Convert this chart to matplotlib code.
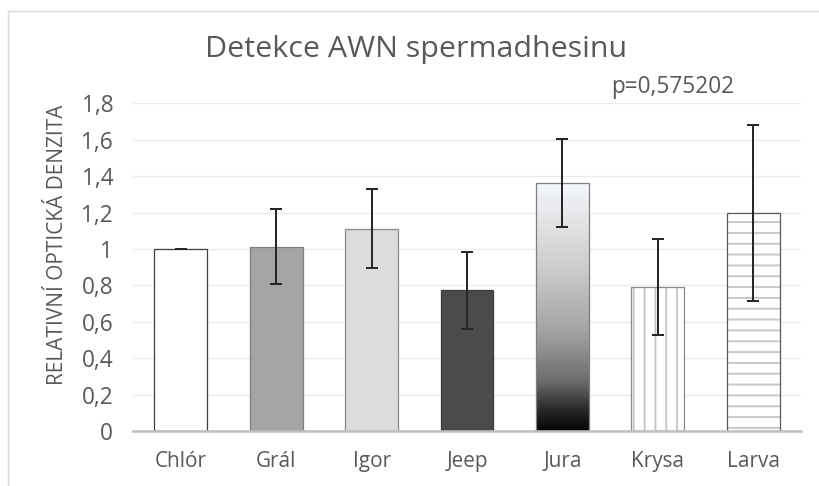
import matplotlib
matplotlib.use('Agg')
import matplotlib.pyplot as plt
import numpy as np
from matplotlib.colors import LinearSegmentedColormap
from matplotlib.patches import Rectangle

categories = ['Chlór', 'Grál', 'Igor', 'Jeep', 'Jura', 'Krysa', 'Larva']
values = [1.0, 1.013, 1.112, 0.773, 1.362, 0.793, 1.197]
errors = [0.0, 0.206, 0.217, 0.211, 0.243, 0.264, 0.483]
yticks = [0, 0.2, 0.4, 0.6, 0.8, 1.0, 1.2, 1.4, 1.6, 1.8]
ytick_labels = ['0', '0,2', '0,4', '0,6', '0,8', '1', '1,2', '1,4', '1,6', '1,8']
title = 'Detekce AWN spermadhesinu'
ylabel = 'RELATIVNÍ OPTICKÁ DENZITA'
pvalue_text = 'p=0,575202'

faces = ['white', '#a5a5a5', '#dcdcdc', '#4b4b4b', 'none', 'white', 'white']
edges = ['#404040', '#7f7f7f', '#8c8c8c', '#3c3c3c', '#7f7f7f', '#8a8a8a', '#5a5a5a']
hatches = [None, None, None, None, None, '||', '--']

DPI = 130
plt.rcParams['font.family'] = ['Open Sans', 'DejaVu Sans']
plt.rcParams['hatch.linewidth'] = 1.1

fig = plt.figure(figsize=(819 / DPI, 486 / DPI), dpi=DPI)
fig.patch.set_facecolor('white')
fig.patches.append(Rectangle((8 / 819, -0.2), 1.2, 1.2 - 11 / 486 + 0.0,
                             transform=fig.transFigure, fill=False,
                             edgecolor='#d9d9d9', linewidth=0.8))

ax = fig.add_axes([133 / 819, 1 - 431 / 486, 668 / 819, (431 - 103.3) / 486])
x = np.arange(len(categories))
width = 0.555

ax.set_xlim(-0.5, len(categories) - 0.5)
ax.set_ylim(0, 1.8)
ax.set_yticks(yticks)
ax.set_yticklabels(ytick_labels)
ax.set_xticks(x)
ax.set_xticklabels(categories)
ax.grid(axis='y', color='#ececec', linewidth=0.8, zorder=0)
ax.set_axisbelow(True)
for s in ['top', 'right', 'left']:
    ax.spines[s].set_visible(False)
ax.spines['bottom'].set_color('#bfbfbf')
ax.spines['bottom'].set_linewidth(1.4)
ax.spines['bottom'].set_zorder(5)
ax.tick_params(axis='both', length=0, colors='#595959')
ax.tick_params(axis='y', pad=11, labelsize=12.5)
ax.tick_params(axis='x', pad=11, labelsize=11.5)

# hatch layers
for i in range(len(categories)):
    if hatches[i]:
        ax.bar(x[i], values[i], width, color='white', edgecolor='#c8c8c8',
               hatch=hatches[i], linewidth=0, zorder=2)

bars = ax.bar(x, values, width, color=[f if h is None else 'none' for f, h in zip(faces, hatches)],
              edgecolor=edges, linewidth=0.7, zorder=3)

# gradient for Jura
jb = bars[4]
cmap = LinearSegmentedColormap.from_list('jura', [
    (0.0, '#050505'), (0.08, '#262626'), (0.2, '#6c6c6c'), (0.4, '#a3a3a3'),
    (0.65, '#cbcbcb'), (1.0, '#f4f7fb')])
grad = np.linspace(0, 1, 256).reshape(-1, 1)
x0, y0 = jb.get_x(), jb.get_y()
im = ax.imshow(grad, cmap=cmap, origin='lower', aspect='auto',
               extent=(x0, x0 + jb.get_width(), y0, y0 + jb.get_height()), zorder=2.5)
im.set_clip_path(jb)
ax.set_xlim(-0.5, len(categories) - 0.5)
ax.set_ylim(0, 1.8)

ax.errorbar(x, values, yerr=errors, fmt='none', ecolor='#262626', elinewidth=1.1,
            capsize=3.3, capthick=1.1, zorder=4)

ax.set_ylabel(ylabel, color='#595959', fontsize=11.6)
ax.yaxis.set_label_coords(-0.098, 0.568)

fig.text(0.508, 1 - 50 / 486, title, ha='center', va='center', fontsize=16.8,
         color='#595959')
ax.text(0.808, 1.05, pvalue_text, transform=ax.transAxes, ha='center', va='center',
        fontsize=12.5, color='#595959')

fig.savefig('out.png', dpi=DPI, facecolor='white')
